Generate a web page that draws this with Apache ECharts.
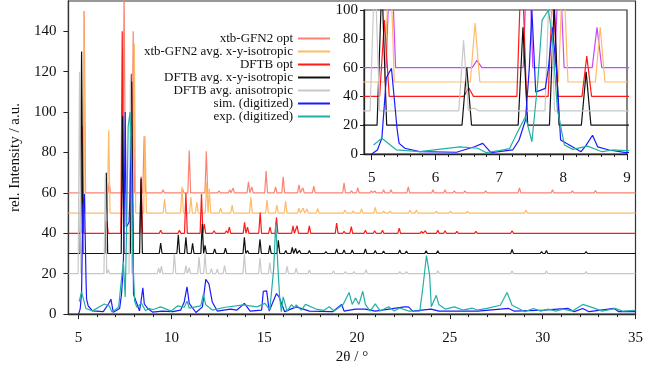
<!DOCTYPE html>
<html>
<head>
<meta charset="utf-8">
<script src="https://cdn.jsdelivr.net/npm/echarts@6/dist/echarts.min.js"></script>
<style>
  html, body { margin: 0; padding: 0; background: #fff; }
  #chart { width: 646px; height: 370px; }
</style>
</head>
<body>
<div id="chart"></div>
<script>
// legend names, drawn in this order
const seriesNames = ['xtb-GFN2 opt', 'xtb-GFN2 avg. x-y-isotropic', 'DFTB opt', 'DFTB avg. x-y-isotropic',
  'DFTB avg. anisotropic', 'sim. (digitized)', 'exp. (digitized)']

// computed patterns: [2theta, intensity above its own baseline]
const xtbOptPeaks = [[5.3, 90], [6.65, 5], [7.45, 100], [7.94, 80], [8.53, 28], [9.55, 1.5], [10.6, 2], [10.96, 21],
  [11.88, 20.6], [12.56, 1], [13.14, 1.5], [13.32, 2.5], [14.15, 5.5], [14.33, 3], [15.1, 10.8], [15.61, 3], [16.02, 8],
  [16.87, 4], [17.08, 2.5], [17.67, 3.3], [19.3, 5], [19.7, 1], [20.04, 2.6], [20.77, 1], [20.95, 1], [21.43, 1.5],
  [21.83, 1.5], [22.76, 3], [24.09, 1.5], [24.74, 1.5], [25.24, 1], [25.81, 1], [26.93, 1], [28.75, 2.5], [30.07, 0.8],
  [30.53, 1.5], [31.6, 1], [32.2, 0.8], [32.84, 1.2], [33.76, 0.6], [34.73, 0.6]]
const xtbAvgPeaks = [[5.28, 100], [6.62, 41], [8.0, 84], [8.58, 38], [9.63, 7], [10.57, 13], [11.05, 8], [11.37, 5.5],
  [11.9, 15], [12.04, 12], [12.65, 2.5], [13.27, 4], [14.28, 8], [15.15, 6.5], [15.68, 4], [16.15, 6], [16.87, 2.5],
  [17.1, 2.5], [17.3, 2], [17.88, 2.3], [19.35, 1.6], [19.8, 1.2], [20.24, 2], [20.98, 2.8], [21.43, 1], [21.78, 1],
  [22.85, 1.5], [23.2, 1.5], [24.27, 1], [25.03, 1], [25.95, 1], [29.1, 1.5], [30.65, 0.5], [31.7, 0.5], [33.2, 0.5]]
const dftbOptPeaks = [[5.2, 53], [6.52, 6], [7.35, 100], [7.84, 79], [8.37, 28], [9.42, 1.5], [10.43, 1.5], [10.78, 20],
  [11.62, 19.5], [11.77, 4.6], [12.3, 1.3], [12.96, 1.3], [13.12, 3], [13.94, 5.4], [14.1, 3], [14.78, 10.3], [15.31, 3],
  [15.66, 7.9], [16.55, 3.7], [16.77, 3.7], [17.43, 3.7], [18.9, 5], [19.3, 1], [19.69, 3.3], [20.45, 1.5], [20.95, 1.2],
  [21.37, 1.5], [22.27, 2.6], [23.47, 1], [23.68, 1.3], [24.35, 1.5], [24.74, 1.2], [25.38, 1], [26.4, 1], [28.35, 1.3],
  [29.5, 0.8], [29.85, 0.8], [30.9, 0.6], [31.66, 0.6], [32.34, 0.6], [33.2, 0.5], [33.94, 0.5]]
const dftbAvgPeaks = [[5.16, 100], [6.49, 40], [7.37, 68], [7.86, 85], [8.36, 37], [9.42, 5.2], [10.37, 9.3], [10.78, 8],
  [11.14, 5], [11.66, 14.6], [11.81, 4], [12.33, 2.3], [12.91, 2.7], [13.93, 8], [14.1, 1.5], [14.77, 7], [15.3, 4],
  [15.76, 6.5], [16.16, 1.5], [16.51, 3], [16.69, 2.5], [16.9, 1.5], [17.43, 1.5], [18.32, 1], [18.9, 2.3], [19.3, 1.8],
  [19.74, 1.8], [20.45, 2.3], [20.98, 1.5], [21.43, 1.2], [22.3, 1.8], [22.66, 1.2], [23.72, 1.3], [24.35, 1.3],
  [28.35, 2], [29.94, 1], [30.2, 1.5], [30.95, 0.8], [32.34, 1], [33.7, 0.6]]
const dftbAnisoPeaks = [[5.05, 100], [6.44, 49], [6.6, 2], [7.79, 97], [9.31, 2.8], [9.46, 3.8], [10.16, 9.8], [10.78, 4],
  [10.96, 3], [11.49, 8.2], [11.81, 9.8], [12.15, 2.5], [12.47, 2.3], [12.86, 4], [13.93, 9.8], [14.77, 7.7], [15.3, 5.5],
  [16.23, 3.6], [16.72, 2.7], [17.43, 1.8], [18.73, 1.5], [19.38, 1], [19.83, 1], [20.48, 2], [22.3, 1], [22.66, 1],
  [24.35, 1.5], [28.35, 1.5], [29.94, 0.8], [30.2, 1.5], [32.34, 1]]

// digitized patterns: [2theta, intensity]
const simPoints = [[5.0, 0], [5.09, 2.8], [5.16, 11], [5.23, 53], [5.31, 59.5], [5.4, 16.7], [5.43, 7.4], [5.52, 4],
  [5.75, 1.6], [6.33, 1.2], [6.61, 5], [6.74, 7.4], [6.87, 0.9], [7.21, 2.8], [7.31, 9.7], [7.41, 23.6], [7.47, 60],
  [7.51, 100], [7.57, 43], [7.72, 45.6], [7.77, 60], [7.83, 88], [7.9, 56], [7.96, 9.7], [8.28, 1.6], [8.35, 5.5],
  [8.46, 13], [8.54, 5], [8.72, 2.8], [8.98, 1], [9.5, 1.5], [10.07, 1.2], [10.5, 2], [10.69, 6], [10.84, 13.5],
  [10.96, 5.3], [11.32, 0.8], [11.67, 3.6], [11.85, 17.2], [12.02, 15], [12.2, 6], [12.47, 1.5], [13.18, 2.5],
  [13.53, 2], [13.93, 5.3], [14.24, 1.5], [14.86, 2], [14.95, 11.3], [15.13, 11.5], [15.27, 1.5], [15.66, 10.2],
  [15.8, 8.5], [16.1, 1.2], [16.72, 3.6], [17.44, 1.5], [18.68, 1.2], [19.17, 4.8], [19.25, 4.8], [19.3, 1.5],
  [19.92, 2.5], [20.45, 2.5], [20.98, 1.5], [22.55, 3.6], [22.77, 3.6], [23.0, 1.5], [23.98, 2.5], [24.42, 1.5],
  [26.5, 1.5], [28.17, 2.8], [28.45, 1.5], [30.05, 2], [31.38, 2.8], [31.7, 1.2], [32.16, 2.8], [32.5, 1.2],
  [33.85, 2.8], [34.1, 1.2], [35, 1.2]]
const expPoints = [[5.03, 6.2], [5.16, 11], [5.39, 2.8], [5.75, 1.6], [6.38, 5], [6.66, 4], [6.79, 1], [7.0, 2.3],
  [7.16, 3.7], [7.26, 13], [7.41, 26], [7.51, 8.5], [7.6, 49], [7.67, 93], [7.77, 100], [7.83, 81], [7.91, 30.6],
  [8.02, 6.2], [8.15, 3.2], [8.38, 5.5], [8.61, 1.6], [8.78, 2.8], [8.98, 2.3], [9.1, 2.5], [9.42, 3.6], [9.99, 1.5],
  [10.34, 4.1], [10.69, 3.4], [10.84, 6.4], [10.96, 3], [11.58, 4.1], [11.72, 9.7], [11.85, 4.6], [12.2, 2],
  [12.91, 3.4], [13.88, 4.6], [14.6, 3.6], [15.04, 5.3], [15.3, 2], [15.51, 22.5], [15.62, 45.4], [15.74, 22.5],
  [15.83, 8.5], [15.92, 1.2], [16.02, 8.5], [16.23, 1.5], [16.46, 4.6], [16.65, 3], [16.72, 4.6], [17.0, 2],
  [17.22, 4.8], [17.79, 2.5], [18.2, 1.8], [18.5, 3.6], [18.77, 1.5], [19.25, 4.8], [19.57, 10.7], [19.74, 4.8],
  [19.92, 8], [20.1, 4.8], [20.31, 11.3], [20.45, 4.8], [20.7, 1.5], [20.98, 5.1], [21.25, 1.5], [21.7, 3.6],
  [22.0, 1.5], [22.3, 3], [22.8, 1.5], [23.38, 1.5], [23.56, 14.3], [23.74, 29], [23.91, 19.2], [24.0, 3.6],
  [24.27, 9.3], [24.4, 4.8], [24.75, 2.5], [25.24, 3.6], [25.7, 2], [26.2, 3], [26.48, 2], [27.0, 2.8], [27.72, 4.4],
  [28.08, 10.7], [28.35, 4.4], [28.7, 2.8], [29.05, 1.2], [29.5, 2.8], [29.9, 1.5], [30.3, 2.5], [30.7, 1.5],
  [31.1, 2.5], [31.6, 1.5], [32.16, 4.8], [32.7, 3.2], [33.2, 1.5], [33.94, 2.8], [34.3, 1.5], [35, 1.8]]

// vertical offsets of the computed patterns
const mainOffsets = [60, 50, 40, 30, 20]
const insetOffsets = [60, 50, 40, 20, 30]

// ticks
const mainXLabels = [5, 10, 15, 20, 25, 30, 35]
const mainXMinor = [5, 6, 7, 8, 9, 10, 11, 12, 13, 14, 15, 16, 17, 18, 19, 20, 21, 22, 23, 24, 25, 26, 27, 28, 29, 30,
  31, 32, 33, 34, 35]
const mainYLabels = [0, 20, 40, 60, 80, 100, 120, 140]
const insetXLabels = [5, 6, 7, 8, 9]
const insetXMinor = [5.2, 5.4, 5.6, 5.8, 6.2, 6.4, 6.6, 6.8, 7.2, 7.4, 7.6, 7.8, 8.2, 8.4, 8.6, 8.8]
const insetYLabels = [0, 20, 40, 60, 80, 100]

const colors = ['#fa8472', '#ffbb66', '#ff1a1a', '#111111', '#c8c8c8', '#1a1aff', '#22b0a4']
const insetColors = ['#cc44ff', '#ffbb66', '#ff1a1a', '#111111', '#c8c8c8', '#1a1aff', '#22b0a4']
const font = 'Liberation Serif'
const peakHalfWidth = 0.075

// stick pattern on its baseline
function stickData(peaks, offset) {
  const pts = [[4.45, offset]]
  peaks.forEach(([x, h]) => {
    pts.push([x - peakHalfWidth, offset], [x, offset + h], [x + peakHalfWidth, offset])
  })
  pts.push([35, offset])
  return pts
}

const computed = [xtbOptPeaks, xtbAvgPeaks, dftbOptPeaks, dftbAvgPeaks, dftbAnisoPeaks]
const digitized = [simPoints, expPoints]

function lineSeries(name, data, color, xIdx, yIdx, z) {
  return {
    name, type: 'line', data, xAxisIndex: xIdx, yAxisIndex: yIdx, z,
    symbol: 'none', showSymbol: false, clip: true, silent: true,
    lineStyle: { color, width: 1.2 }, itemStyle: { color },
    emphasis: { disabled: true }
  }
}

const series = []
computed.forEach((p, i) => series.push(lineSeries(seriesNames[i], stickData(p, mainOffsets[i]), colors[i], 0, 0, 2)))
digitized.forEach((p, i) => series.push(lineSeries(seriesNames[5 + i], p, colors[5 + i], 0, 0, 2)))
computed.forEach((p, i) => series.push(lineSeries(seriesNames[i], stickData(p, insetOffsets[i]), insetColors[i], 2, 1, 7)))
digitized.forEach((p, i) => series.push(lineSeries(seriesNames[5 + i], p, insetColors[5 + i], 2, 1, 7)))

const labelStyle = { fontFamily: font, fontSize: 15, color: '#111' }
const axisLine = { show: true, lineStyle: { color: '#222', width: 1.3 } }

const chart = echarts.init(document.getElementById('chart'))
chart.setOption({
  animation: false,
  backgroundColor: '#fff',
  grid: [
    { left: 63, right: 9, top: 1, bottom: 54, show: true, borderColor: '#333', borderWidth: 1.2, z: 1 },
    { left: 364, right: 19, top: 10, bottom: 216, show: true, backgroundColor: '#fff', borderColor: '#333', borderWidth: 1.2, z: 5 }
  ],
  legend: {
    data: seriesNames,
    orient: 'vertical', align: 'right', left: 93, top: 32,
    padding: 0, itemGap: 0, itemWidth: 32, itemHeight: 2, icon: 'rect',
    selectedMode: false,
    formatter: '{a|{name}}',
    textStyle: {
      rich: { a: { width: 200, align: 'right', fontFamily: font, fontSize: 13, lineHeight: 13.7, color: '#111' } }
    }
  },
  xAxis: [
    {
      type: 'value', gridIndex: 0, min: 4.45, max: 35, position: 'bottom',
      name: '2θ / °', nameLocation: 'middle', nameGap: 27,
      nameTextStyle: { fontFamily: font, fontSize: 15, color: '#111' },
      axisLine, splitLine: { show: false },
      axisTick: { show: true, length: 5, customValues: mainXLabels, lineStyle: { color: '#222' } },
      axisLabel: Object.assign({ margin: 16, customValues: mainXLabels }, labelStyle)
    },
    {
      type: 'value', gridIndex: 0, min: 4.45, max: 35, position: 'bottom',
      axisLine: { show: false }, splitLine: { show: false }, axisLabel: { show: false },
      axisTick: { show: true, length: 3, customValues: mainXMinor, lineStyle: { color: '#222' } }
    },
    {
      type: 'value', gridIndex: 1, min: 4.88, max: 9, position: 'bottom', z: 6,
      axisLine, splitLine: { show: false },
      axisTick: { show: true, length: 6, customValues: insetXLabels, lineStyle: { color: '#222' } },
      axisLabel: Object.assign({ margin: 17, customValues: insetXLabels }, labelStyle)
    },
    {
      type: 'value', gridIndex: 1, min: 4.88, max: 9, position: 'bottom', z: 6,
      axisLine: { show: false }, splitLine: { show: false }, axisLabel: { show: false },
      axisTick: { show: true, length: 3, customValues: insetXMinor, lineStyle: { color: '#222' } }
    }
  ],
  yAxis: [
    {
      type: 'value', gridIndex: 0, min: 0, max: 155,
      name: 'rel. Intensity / a.u.', nameLocation: 'middle', nameGap: 40,
      nameTextStyle: { fontFamily: font, fontSize: 15, color: '#111' },
      axisLine, splitLine: { show: false },
      axisTick: { show: true, length: 5, customValues: mainYLabels, lineStyle: { color: '#222' } },
      axisLabel: Object.assign({ margin: 12, customValues: mainYLabels }, labelStyle)
    },
    {
      type: 'value', gridIndex: 1, min: 0, max: 100, z: 6,
      axisLine, splitLine: { show: false },
      axisTick: { show: true, length: 4, customValues: insetYLabels, lineStyle: { color: '#222' } },
      axisLabel: Object.assign({ margin: 6, customValues: insetYLabels }, labelStyle)
    }
  ],
  series
})
</script>
</body>
</html>
